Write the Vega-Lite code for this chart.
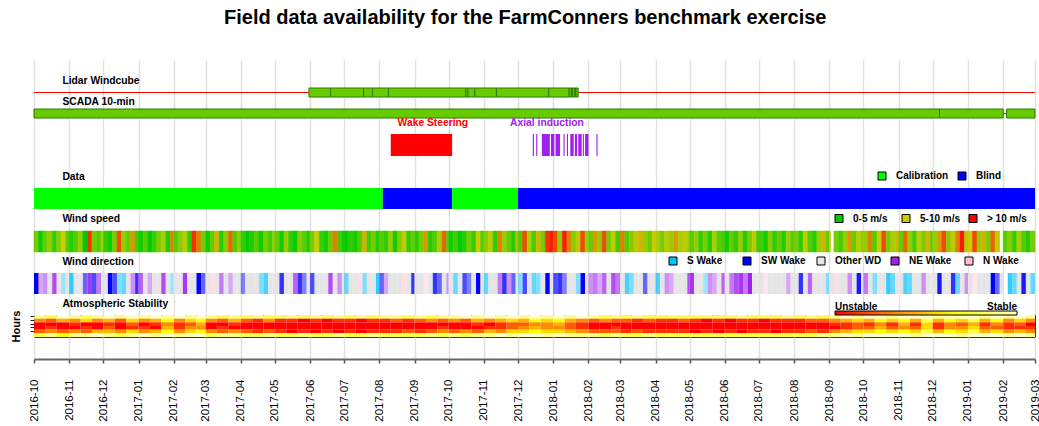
{
  "$schema": "https://vega.github.io/schema/vega-lite/v6.json",
  "padding": {"left": 10, "top": 8, "right": 0, "bottom": 0},
  "title": {"text": "Field data availability for the FarmConners benchmark exercise", "font": "Liberation Sans", "fontSize": 20, "fontWeight": "bold", "color": "#000", "anchor": "middle", "offset": 32},
  "config": {
    "font": "Liberation Sans",
    "view": {"stroke": null},
    "axis": {"gridColor": "#e0e0e0", "gridWidth": 1.5},
    "text": {"font": "Liberation Sans", "fontWeight": "bold", "fontSize": 10.3, "align": "left", "baseline": "middle", "color": "#000"},
    "legend": {"orient": "none", "direction": "horizontal", "title": null, "labelFont": "Liberation Sans", "labelFontSize": 10, "labelFontWeight": "bold", "labelColor": "#000", "padding": 0}
  },
  "spacing": 0,
  "bounds": "flush",
  "resolve": {"scale": {"x": "independent", "y": "independent", "color": "independent", "fill": "independent", "stroke": "independent", "opacity": "independent"}},
  "vconcat": [
    {
      "width": 1001, "height": 100,
      "layer": [
        {"data": {"values": [{"s": "2016-10-01", "e": "2019-03-01"}]},
         "mark": {"type": "rule", "color": "#ff0000", "strokeWidth": 1},
         "encoding": {
           "x": {"field": "s", "type": "temporal", "scale": {"domain": [{"year": 2016, "month": 10, "date": 1, "utc": true}, {"year": 2019, "month": 3, "date": 1, "utc": true}]}, "axis": {"labels": false, "ticks": false, "domain": false, "title": null, "grid": true, "tickCount": {"interval": "month", "step": 1}}},
           "x2": {"field": "e"},
           "y": {"datum": 32.5, "type": "quantitative", "scale": {"domain": [0, 100], "reverse": true, "nice": false, "zero": false}, "axis": null}}},
        {"data": {"values": [{"s": "2016-10-01", "e": "2019-03-01"}]},
         "mark": {"type": "rule", "color": "#ff0000", "strokeWidth": 1},
         "encoding": {"x": {"field": "s", "type": "temporal"}, "x2": {"field": "e"}, "y": {"datum": 53.5, "type": "quantitative"}}},
        {"data": {"values": [
          {"s": "2017-05-31", "e": "2017-06-19"}, {"s": "2017-06-19", "e": "2017-07-18"}, {"s": "2017-07-18", "e": "2017-07-26"},
          {"s": "2017-07-26", "e": "2017-08-09"}, {"s": "2017-08-09", "e": "2017-10-16"}, {"s": "2017-10-16", "e": "2017-10-18"},
          {"s": "2017-10-18", "e": "2017-10-24"}, {"s": "2017-10-24", "e": "2017-11-12"}, {"s": "2017-11-12", "e": "2017-12-28"},
          {"s": "2017-12-28", "e": "2018-01-15"}, {"s": "2018-01-15", "e": "2018-01-17"}, {"s": "2018-01-17", "e": "2018-01-18"},
          {"s": "2018-01-18", "e": "2018-01-20"}, {"s": "2018-01-20", "e": "2018-01-21"}, {"s": "2018-01-21", "e": "2018-01-23"}]},
         "mark": {"type": "rect", "fill": "#66cc00", "stroke": "#2b7a00", "strokeWidth": 1},
         "encoding": {"x": {"field": "s", "type": "temporal"}, "x2": {"field": "e"}, "y": {"datum": 28, "type": "quantitative"}, "y2": {"datum": 37}}},
        {"data": {"values": [{"s": "2016-10-01", "e": "2018-12-07"}, {"s": "2018-12-07", "e": "2019-02-01"}, {"s": "2019-02-04", "e": "2019-03-01"}]},
         "mark": {"type": "rect", "fill": "#66cc00", "stroke": "#2b7a00", "strokeWidth": 1},
         "encoding": {"x": {"field": "s", "type": "temporal"}, "x2": {"field": "e"}, "y": {"datum": 49, "type": "quantitative"}, "y2": {"datum": 58}}},
        {"data": {"values": [{"s": "2017-08-11", "e": "2017-10-04"}]},
         "mark": {"type": "rect", "fill": "#ff0000"},
         "encoding": {"x": {"field": "s", "type": "temporal"}, "x2": {"field": "e"}, "y": {"datum": 74, "type": "quantitative"}, "y2": {"datum": 96}}},
        {"data": {"values": [
          {"s": "2017-12-14", "e": "2017-12-15"}, {"s": "2017-12-17", "e": "2017-12-18"}, {"s": "2017-12-22", "e": "2017-12-29"},
          {"s": "2017-12-30", "e": "2018-01-02"}, {"s": "2018-01-03", "e": "2018-01-07"}, {"s": "2018-01-10", "e": "2018-01-11"},
          {"s": "2018-01-13", "e": "2018-01-14"}, {"s": "2018-01-16", "e": "2018-01-19"}, {"s": "2018-01-20", "e": "2018-01-22"},
          {"s": "2018-01-23", "e": "2018-01-26"}, {"s": "2018-01-27", "e": "2018-01-28"}, {"s": "2018-01-29", "e": "2018-02-01"},
          {"s": "2018-02-08", "e": "2018-02-09"}]},
         "mark": {"type": "rect", "fill": "#a020f0"},
         "encoding": {"x": {"field": "s", "type": "temporal"}, "x2": {"field": "e"}, "y": {"datum": 74, "type": "quantitative"}, "y2": {"datum": 96}}},
        {"data": {"values": [{"label": "Lidar Windcube"}]}, "mark": {"type": "text"},
         "encoding": {"x": {"datum": {"year": 2016, "month": 10, "date": 26, "utc": true}, "type": "temporal"}, "y": {"datum": 20.5, "type": "quantitative"}, "text": {"field": "label"}}},
        {"data": {"values": [{"label": "SCADA 10-min"}]}, "mark": {"type": "text"},
         "encoding": {"x": {"datum": {"year": 2016, "month": 10, "date": 26, "utc": true}, "type": "temporal"}, "y": {"datum": 42, "type": "quantitative"}, "text": {"field": "label"}}},
        {"data": {"values": [{"label": "Wake Steering"}]}, "mark": {"type": "text", "color": "#ff0000"},
         "encoding": {"x": {"datum": {"year": 2017, "month": 8, "date": 17, "utc": true}, "type": "temporal"}, "y": {"datum": 63, "type": "quantitative"}, "text": {"field": "label"}}},
        {"data": {"values": [{"label": "Axial induction"}]}, "mark": {"type": "text", "color": "#a020f0"},
         "encoding": {"x": {"datum": {"year": 2017, "month": 11, "date": 24, "utc": true}, "type": "temporal"}, "y": {"datum": 63, "type": "quantitative"}, "text": {"field": "label"}}}
      ]
    },
    {
      "width": 1001, "height": 51,
      "layer": [
        {"data": {"values": [
          {"s": "2016-10-01", "e": "2017-08-04", "k": "Calibration"}, {"s": "2017-08-04", "e": "2017-10-04", "k": "Blind"},
          {"s": "2017-10-04", "e": "2017-12-01", "k": "Calibration"}, {"s": "2017-12-01", "e": "2019-03-01", "k": "Blind"}]},
         "mark": {"type": "rect"},
         "encoding": {
           "x": {"field": "s", "type": "temporal", "scale": {"domain": [{"year": 2016, "month": 10, "date": 1, "utc": true}, {"year": 2019, "month": 3, "date": 1, "utc": true}]}, "axis": {"labels": false, "ticks": false, "domain": false, "title": null, "grid": true, "tickCount": {"interval": "month", "step": 1}}},
           "x2": {"field": "e"},
           "y": {"datum": 28, "type": "quantitative", "scale": {"domain": [0, 51], "reverse": true, "nice": false, "zero": false}, "axis": null},
           "y2": {"datum": 49},
           "color": {"field": "k", "type": "nominal", "scale": {"domain": ["Calibration", "Blind"], "range": ["#00ff00", "#0000ff"]}, "legend": {"legendX": 843, "legendY": 11, "columnPadding": 7, "symbolType": "square", "symbolSize": 64, "symbolStrokeColor": "#000", "symbolStrokeWidth": 1, "labelOffset": 9, "gridAlign": "all", "symbolOpacity": 1}}}},
        {"data": {"values": [{"label": "Data"}]}, "mark": {"type": "text"},
         "encoding": {"x": {"datum": {"year": 2016, "month": 10, "date": 26, "utc": true}, "type": "temporal"}, "y": {"datum": 16.7, "type": "quantitative"}, "text": {"field": "label"}}}
      ]
    },
    {
      "width": 1001, "height": 43,
      "layer": [
        {"data": {"values": "s,ws\n2016-10-01,7\n2016-10-05,4\n2016-10-09,6.5\n2016-10-13,8\n2016-10-17,5\n2016-10-21,7.5\n2016-10-25,9.5\n2016-10-29,6\n2016-11-01,4.5\n2016-11-05,6\n2016-11-09,8\n2016-11-13,3.5\n2016-11-17,12.5\n2016-11-21,7\n2016-11-25,6\n2016-11-29,8.5\n2016-12-01,5\n2016-12-05,4\n2016-12-09,7\n2016-12-13,12\n2016-12-17,8\n2016-12-21,6.5\n2016-12-25,10.5\n2016-12-29,5.5\n2017-01-01,4\n2017-01-05,6\n2017-01-09,3.5\n2017-01-13,5\n2017-01-17,7\n2017-01-21,8.5\n2017-01-25,4.5\n2017-01-29,11\n2017-02-01,6\n2017-02-05,7.5\n2017-02-09,9\n2017-02-13,5\n2017-02-17,12.5\n2017-02-21,11\n2017-02-25,7\n2017-03-01,4\n2017-03-05,6.5\n2017-03-09,10\n2017-03-13,4.5\n2017-03-17,7.5\n2017-03-21,11.5\n2017-03-25,6\n2017-03-29,8\n2017-04-01,5\n2017-04-05,3.5\n2017-04-09,4.5\n2017-04-13,6\n2017-04-17,4\n2017-04-21,7\n2017-04-25,5.5\n2017-04-29,8\n2017-05-01,6.5\n2017-05-05,4\n2017-05-09,8\n2017-05-13,5\n2017-05-17,3.5\n2017-05-21,7.5\n2017-05-25,6\n2017-05-29,4.5\n2017-06-01,7\n2017-06-05,9.5\n2017-06-09,5\n2017-06-13,4\n2017-06-17,6.5\n2017-06-21,11\n2017-06-25,5.5\n2017-06-29,4\n2017-07-01,3.5\n2017-07-05,5\n2017-07-09,4\n2017-07-13,6\n2017-07-17,10\n2017-07-21,5.5\n2017-07-25,7\n2017-07-29,4.5\n2017-08-01,6\n2017-08-05,5\n2017-08-09,8\n2017-08-13,4\n2017-08-17,7.5\n2017-08-21,9\n2017-08-25,5\n2017-08-29,6.5\n2017-09-01,5\n2017-09-05,7\n2017-09-09,10.5\n2017-09-13,4.5\n2017-09-17,6\n2017-09-21,8.5\n2017-09-25,11.5\n2017-09-29,6\n2017-10-01,4\n2017-10-05,5.5\n2017-10-09,3.5\n2017-10-13,4.5\n2017-10-17,7\n2017-10-21,5\n2017-10-25,9.5\n2017-10-29,6\n2017-11-01,7.5\n2017-11-05,9\n2017-11-09,5\n2017-11-13,11\n2017-11-17,8\n2017-11-21,6.5\n2017-11-25,4.5\n2017-11-29,10\n2017-12-01,6\n2017-12-05,12\n2017-12-09,8.5\n2017-12-13,5.5\n2017-12-17,10\n2017-12-21,7\n2017-12-25,12.5\n2017-12-29,13\n2018-01-01,12\n2018-01-05,8\n2018-01-09,13\n2018-01-13,11\n2018-01-17,7.5\n2018-01-21,9\n2018-01-25,12\n2018-01-29,8\n2018-02-01,6.5\n2018-02-05,10.5\n2018-02-09,8\n2018-02-13,12\n2018-02-17,7\n2018-02-21,9\n2018-02-25,5.5\n2018-03-01,11\n2018-03-05,6\n2018-03-09,7.5\n2018-03-13,9\n2018-03-17,10\n2018-03-21,8\n2018-03-25,6.5\n2018-03-29,9.5\n2018-04-01,8.5\n2018-04-05,7\n2018-04-09,9\n2018-04-13,8\n2018-04-17,10.5\n2018-04-21,8.5\n2018-04-25,9\n2018-04-29,8\n2018-05-01,6\n2018-05-05,8\n2018-05-09,5\n2018-05-13,7\n2018-05-17,4.5\n2018-05-21,8.5\n2018-05-25,6\n2018-05-29,5.5\n2018-06-01,4\n2018-06-05,6.5\n2018-06-09,5\n2018-06-13,8\n2018-06-17,4.5\n2018-06-21,7\n2018-06-25,9\n2018-06-29,5\n2018-07-01,5.5\n2018-07-05,4\n2018-07-09,7.5\n2018-07-13,5\n2018-07-17,6.5\n2018-07-21,4.5\n2018-07-25,8\n2018-07-29,6\n2018-08-01,7\n2018-08-05,5\n2018-08-09,9\n2018-08-13,6\n2018-08-17,4.5\n2018-08-21,8\n2018-08-25,10\n2018-08-29,6.5\n2018-09-01,9\n2018-09-02,\n2018-09-05,7\n2018-09-09,5.5\n2018-09-13,8\n2018-09-17,10.5\n2018-09-21,6.5\n2018-09-25,9\n2018-09-29,7.5\n2018-10-01,8\n2018-10-05,11\n2018-10-09,6\n2018-10-13,9.5\n2018-10-17,12\n2018-10-21,7\n2018-10-25,8.5\n2018-10-29,10\n2018-11-01,6.5\n2018-11-05,11.5\n2018-11-09,8\n2018-11-13,5.5\n2018-11-17,9\n2018-11-21,7\n2018-11-25,10\n2018-11-29,6\n2018-12-01,8\n2018-12-05,10.5\n2018-12-09,12\n2018-12-13,7.5\n2018-12-17,9\n2018-12-21,11\n2018-12-25,13\n2018-12-29,8.5\n2019-01-01,9.5\n2019-01-05,12\n2019-01-09,8\n2019-01-13,10\n2019-01-17,7\n2019-01-21,11.5\n2019-01-25,9\n2019-01-29,\n2019-02-01,6\n2019-02-05,7.5\n2019-02-09,5\n2019-02-13,8.5\n2019-02-17,6\n2019-02-21,4.5\n2019-02-25,7\n2019-03-01,", "format": {"type": "csv", "parse": {"s": "date", "ws": "number"}}},
         "transform": [{"window": [{"op": "lead", "field": "s", "as": "e"}], "sort": [{"field": "s", "order": "ascending"}]}, {"filter": "isValid(datum.ws) && isValid(datum.e)"}],
         "mark": {"type": "rect", "strokeWidth": 0.5},
         "encoding": {
           "x": {"field": "s", "type": "temporal", "scale": {"domain": [{"year": 2016, "month": 10, "date": 1, "utc": true}, {"year": 2019, "month": 3, "date": 1, "utc": true}]}, "axis": {"labels": false, "ticks": false, "domain": false, "title": null, "grid": true, "tickCount": {"interval": "month", "step": 1}}},
           "x2": {"field": "e"},
           "y": {"datum": 20, "type": "quantitative", "scale": {"domain": [0, 43], "reverse": true, "nice": false, "zero": false}, "axis": null},
           "y2": {"datum": 41},
           "fill": {"field": "ws", "type": "quantitative", "scale": {"domain": [3.5, 9.5, 13.5], "range": ["#00cc00", "#cccc00", "#ff0000"], "interpolate": "rgb"}, "legend": null},
           "stroke": {"field": "ws", "type": "quantitative", "scale": {"domain": [3.5, 9.5, 13.5], "range": ["#00cc00", "#cccc00", "#ff0000"], "interpolate": "rgb"}, "legend": null}}},
        {"data": {"values": [{"label": "Wind speed"}]}, "mark": {"type": "text"},
         "encoding": {"x": {"datum": {"year": 2016, "month": 10, "date": 26, "utc": true}, "type": "temporal"}, "y": {"datum": 8, "type": "quantitative"}, "text": {"field": "label"}}},
        {"data": {"values": [{"k": "0-5 m/s"}, {"k": "5-10 m/s"}, {"k": "> 10 m/s"}]},
         "mark": {"type": "point", "filled": true, "opacity": 0},
         "encoding": {"color": {"field": "k", "type": "nominal", "scale": {"domain": ["0-5 m/s", "5-10 m/s", "> 10 m/s"], "range": ["#00cc00", "#cccc00", "#ff0000"]}, "legend": {"legendX": 800, "legendY": 2.5, "columnPadding": 6, "symbolType": "square", "symbolSize": 64, "symbolStrokeColor": "#000", "symbolStrokeWidth": 1, "labelOffset": 9, "gridAlign": "all", "symbolOpacity": 1}}}}
      ]
    },
    {
      "width": 1001, "height": 42,
      "layer": [
        {"data": {"values": "s,c,a\n2016-10-01,SW,10\n2016-10-05,NE,4\n2016-10-09,NE,5\n2016-10-13,O,10\n2016-10-17,NE,8\n2016-10-21,O,10\n2016-10-25,S,4\n2016-10-29,O,10\n2016-11-01,S,8\n2016-11-05,O,10\n2016-11-09,O,10\n2016-11-13,SW,6\n2016-11-17,NE,9\n2016-11-21,SW,7\n2016-11-25,NE,6\n2016-11-29,O,10\n2016-12-01,O,10\n2016-12-05,SW,10\n2016-12-09,SW,7\n2016-12-13,S,5\n2016-12-17,S,6\n2016-12-21,O,10\n2016-12-25,NE,5\n2016-12-29,SW,8\n2017-01-01,NE,7\n2017-01-05,O,10\n2017-01-09,NE,4\n2017-01-13,O,10\n2017-01-17,O,10\n2017-01-21,NE,8\n2017-01-25,O,10\n2017-01-29,S,4\n2017-02-01,O,10\n2017-02-05,O,10\n2017-02-09,NE,9\n2017-02-13,O,10\n2017-02-17,O,10\n2017-02-21,SW,10\n2017-02-25,SW,6\n2017-03-01,O,10\n2017-03-05,N,5\n2017-03-09,O,10\n2017-03-13,NE,6\n2017-03-17,O,10\n2017-03-21,NE,4\n2017-03-25,O,10\n2017-03-29,O,10\n2017-04-01,SW,5\n2017-04-05,O,10\n2017-04-09,O,10\n2017-04-13,O,10\n2017-04-17,S,5\n2017-04-21,S,7\n2017-04-25,O,10\n2017-04-29,O,10\n2017-05-01,O,10\n2017-05-05,SW,8\n2017-05-09,O,10\n2017-05-13,O,10\n2017-05-17,NE,7\n2017-05-21,SW,8\n2017-05-25,SW,5\n2017-05-29,O,10\n2017-06-01,SW,7\n2017-06-05,O,10\n2017-06-09,O,10\n2017-06-13,O,10\n2017-06-17,NE,8\n2017-06-21,O,10\n2017-06-25,NE,5\n2017-06-29,O,10\n2017-07-01,S,6\n2017-07-05,O,10\n2017-07-09,O,10\n2017-07-13,N,5\n2017-07-17,S,5\n2017-07-21,O,10\n2017-07-25,O,10\n2017-07-29,S,8\n2017-08-01,SW,6\n2017-08-05,NE,4\n2017-08-09,O,10\n2017-08-13,O,10\n2017-08-17,O,10\n2017-08-21,N,5\n2017-08-25,O,10\n2017-08-29,SW,8\n2017-09-01,O,10\n2017-09-05,O,10\n2017-09-09,N,4\n2017-09-13,O,10\n2017-09-17,SW,8\n2017-09-21,SW,6\n2017-09-25,O,10\n2017-09-29,NE,5\n2017-10-01,O,10\n2017-10-05,S,6\n2017-10-09,O,10\n2017-10-13,SW,7\n2017-10-17,SW,5\n2017-10-21,O,10\n2017-10-25,SW,10\n2017-10-29,O,10\n2017-11-01,S,6\n2017-11-05,O,10\n2017-11-09,O,10\n2017-11-13,NE,6\n2017-11-17,SW,8\n2017-11-21,NE,5\n2017-11-25,SW,6\n2017-11-29,O,10\n2017-12-01,S,5\n2017-12-05,SW,7\n2017-12-09,O,10\n2017-12-13,S,6\n2017-12-17,S,5\n2017-12-21,O,10\n2017-12-25,SW,10\n2017-12-29,O,10\n2018-01-01,SW,7\n2018-01-05,SW,8\n2018-01-09,SW,5\n2018-01-13,O,10\n2018-01-17,O,10\n2018-01-21,S,5\n2018-01-25,SW,10\n2018-01-29,O,10\n2018-02-01,NE,5\n2018-02-05,NE,6\n2018-02-09,NE,4\n2018-02-13,NE,7\n2018-02-17,O,10\n2018-02-21,NE,8\n2018-02-25,NE,6\n2018-03-01,O,10\n2018-03-05,S,7\n2018-03-09,S,5\n2018-03-13,O,10\n2018-03-17,O,10\n2018-03-21,SW,6\n2018-03-25,O,10\n2018-03-29,O,10\n2018-04-01,S,7\n2018-04-05,O,10\n2018-04-09,NE,5\n2018-04-13,NE,4\n2018-04-17,O,10\n2018-04-21,O,10\n2018-04-25,O,10\n2018-04-29,NE,8\n2018-05-01,NE,9\n2018-05-05,O,10\n2018-05-09,O,10\n2018-05-13,S,4\n2018-05-17,NE,5\n2018-05-21,NE,4\n2018-05-25,O,10\n2018-05-29,NE,7\n2018-06-01,O,10\n2018-06-05,NE,6\n2018-06-09,NE,8\n2018-06-13,NE,9\n2018-06-17,NE,6\n2018-06-21,NE,10\n2018-06-25,O,10\n2018-06-29,O,10\n2018-07-01,O,10\n2018-07-05,N,4\n2018-07-09,O,10\n2018-07-13,O,10\n2018-07-17,O,10\n2018-07-21,O,10\n2018-07-25,NE,4\n2018-07-29,O,10\n2018-08-01,O,10\n2018-08-05,SW,8\n2018-08-09,O,10\n2018-08-13,NE,7\n2018-08-17,O,10\n2018-08-21,O,10\n2018-08-25,O,10\n2018-08-29,S,5\n2018-09-01,O,10\n2018-09-05,N,5\n2018-09-09,O,10\n2018-09-13,O,10\n2018-09-17,NE,5\n2018-09-21,O,10\n2018-09-25,SW,9\n2018-09-29,O,10\n2018-10-01,NE,6\n2018-10-05,O,10\n2018-10-09,S,5\n2018-10-13,O,10\n2018-10-17,O,10\n2018-10-21,S,8\n2018-10-25,S,6\n2018-10-29,O,10\n2018-11-01,O,10\n2018-11-05,S,7\n2018-11-09,S,6\n2018-11-13,O,10\n2018-11-17,O,10\n2018-11-21,NE,5\n2018-11-25,O,10\n2018-11-29,O,10\n2018-12-01,O,10\n2018-12-05,SW,9\n2018-12-09,O,10\n2018-12-13,O,10\n2018-12-17,SW,8\n2018-12-21,S,6\n2018-12-25,O,10\n2018-12-29,NE,5\n2019-01-01,O,10\n2019-01-05,N,4\n2019-01-09,O,10\n2019-01-13,O,10\n2019-01-17,O,10\n2019-01-21,SW,10\n2019-01-25,SW,6\n2019-01-29,O,10\n2019-02-01,,\n2019-02-05,S,8\n2019-02-09,S,6\n2019-02-13,O,10\n2019-02-17,SW,9\n2019-02-21,O,10\n2019-02-25,S,6\n2019-03-01,,", "format": {"type": "csv", "parse": {"s": "date", "a": "number"}}},
         "transform": [{"window": [{"op": "lead", "field": "s", "as": "e"}], "sort": [{"field": "s", "order": "ascending"}]}, {"filter": "isValid(datum.a) && isValid(datum.e)"}],
         "mark": {"type": "rect"},
         "encoding": {
           "x": {"field": "s", "type": "temporal", "scale": {"domain": [{"year": 2016, "month": 10, "date": 1, "utc": true}, {"year": 2019, "month": 3, "date": 1, "utc": true}]}, "axis": {"labels": false, "ticks": false, "domain": false, "title": null, "grid": true, "tickCount": {"interval": "month", "step": 1}}},
           "x2": {"field": "e"},
           "y": {"datum": 19, "type": "quantitative", "scale": {"domain": [0, 42], "reverse": true, "nice": false, "zero": false}, "axis": null},
           "y2": {"datum": 40},
           "fill": {"field": "c", "type": "nominal", "scale": {"domain": ["S", "SW", "O", "NE", "N"], "range": ["#00bfff", "#0000ff", "#e5e5e5", "#a020f0", "#ffc0cb"]}, "legend": {"legendX": 634, "legendY": 2, "columnPadding": 7, "symbolType": "square", "symbolSize": 64, "symbolStrokeColor": "#000", "symbolStrokeWidth": 1, "labelOffset": 9, "gridAlign": "all", "symbolOpacity": 1, "labelExpr": "datum.label == 'S' ? 'S Wake' : datum.label == 'SW' ? 'SW Wake' : datum.label == 'O' ? 'Other WD' : datum.label == 'NE' ? 'NE Wake' : 'N Wake'"}},
           "opacity": {"field": "a", "type": "quantitative", "scale": {"domain": [0, 10], "range": [0, 1]}, "legend": null}}},
        {"data": {"values": [{"label": "Wind direction"}]}, "mark": {"type": "text"},
         "encoding": {"x": {"datum": {"year": 2016, "month": 10, "date": 26, "utc": true}, "type": "temporal"}, "y": {"datum": 8, "type": "quantitative"}, "text": {"field": "label"}}}
      ]
    },
    {
      "width": 1001, "height": 19,
      "data": {"values": [{"label": "Atmospheric Stability"}]},
      "mark": {"type": "text"},
      "encoding": {
        "x": {"datum": {"year": 2016, "month": 10, "date": 26, "utc": true}, "type": "temporal", "scale": {"domain": [{"year": 2016, "month": 10, "date": 1, "utc": true}, {"year": 2019, "month": 3, "date": 1, "utc": true}]}, "axis": {"labels": false, "ticks": false, "domain": false, "title": null, "grid": true, "tickCount": {"interval": "month", "step": 1}}},
        "y": {"datum": 8, "type": "quantitative", "scale": {"domain": [0, 19], "reverse": true, "nice": false, "zero": false}, "axis": null},
        "text": {"field": "label"}}
    },
    {
      "width": 1001, "height": 22,
      "view": {"stroke": "#333", "strokeWidth": 1},
      "data": {"values": "d,h,s\n2016-10-01,0,8\n2016-10-01,4,3\n2016-10-01,8,0\n2016-10-01,12,0\n2016-10-01,16,2\n2016-10-01,20,7\n2016-10-11,0,7\n2016-10-11,4,2\n2016-10-11,8,0\n2016-10-11,12,1\n2016-10-11,16,3\n2016-10-11,20,8\n2016-10-21,0,9\n2016-10-21,4,4\n2016-10-21,8,0\n2016-10-21,12,0\n2016-10-21,16,2\n2016-10-21,20,6\n2016-11-01,0,8\n2016-11-01,4,3\n2016-11-01,8,1\n2016-11-01,12,0\n2016-11-01,16,3\n2016-11-01,20,8\n2016-11-11,0,7\n2016-11-11,4,5\n2016-11-11,8,0\n2016-11-11,12,1\n2016-11-11,16,2\n2016-11-11,20,8\n2016-11-21,0,8\n2016-11-21,4,3\n2016-11-21,8,0\n2016-11-21,12,0\n2016-11-21,16,4\n2016-11-21,20,9\n2016-12-01,0,9\n2016-12-01,4,4\n2016-12-01,8,1\n2016-12-01,12,2\n2016-12-01,16,4\n2016-12-01,20,8\n2016-12-11,0,8\n2016-12-11,4,2\n2016-12-11,8,0\n2016-12-11,12,0\n2016-12-11,16,3\n2016-12-11,20,7\n2016-12-21,0,9\n2016-12-21,4,5\n2016-12-21,8,2\n2016-12-21,12,1\n2016-12-21,16,5\n2016-12-21,20,8\n2017-01-01,0,8\n2017-01-01,4,3\n2017-01-01,8,0\n2017-01-01,12,1\n2017-01-01,16,3\n2017-01-01,20,9\n2017-01-11,0,9\n2017-01-11,4,4\n2017-01-11,8,1\n2017-01-11,12,0\n2017-01-11,16,4\n2017-01-11,20,8\n2017-01-21,0,8\n2017-01-21,4,6\n2017-01-21,8,3\n2017-01-21,12,4\n2017-01-21,16,6\n2017-01-21,20,9\n2017-02-01,0,9\n2017-02-01,4,3\n2017-02-01,8,1\n2017-02-01,12,1\n2017-02-01,16,3\n2017-02-01,20,8\n2017-02-11,0,8\n2017-02-11,4,5\n2017-02-11,8,2\n2017-02-11,12,3\n2017-02-11,16,5\n2017-02-11,20,9\n2017-02-21,0,9\n2017-02-21,4,6\n2017-02-21,8,4\n2017-02-21,12,3\n2017-02-21,16,6\n2017-02-21,20,9\n2017-03-01,0,8\n2017-03-01,4,3\n2017-03-01,8,0\n2017-03-01,12,0\n2017-03-01,16,3\n2017-03-01,20,7\n2017-03-11,0,7\n2017-03-11,4,2\n2017-03-11,8,0\n2017-03-11,12,1\n2017-03-11,16,2\n2017-03-11,20,8\n2017-03-21,0,8\n2017-03-21,4,4\n2017-03-21,8,1\n2017-03-21,12,0\n2017-03-21,16,3\n2017-03-21,20,8\n2017-04-01,0,7\n2017-04-01,4,2\n2017-04-01,8,0\n2017-04-01,12,0\n2017-04-01,16,2\n2017-04-01,20,7\n2017-04-11,0,8\n2017-04-11,4,1\n2017-04-11,8,0\n2017-04-11,12,0\n2017-04-11,16,1\n2017-04-11,20,7\n2017-04-21,0,7\n2017-04-21,4,3\n2017-04-21,8,0\n2017-04-21,12,0\n2017-04-21,16,2\n2017-04-21,20,8\n2017-05-01,0,7\n2017-05-01,4,1\n2017-05-01,8,0\n2017-05-01,12,0\n2017-05-01,16,1\n2017-05-01,20,7\n2017-05-11,0,8\n2017-05-11,4,1\n2017-05-11,8,0\n2017-05-11,12,0\n2017-05-11,16,0\n2017-05-11,20,7\n2017-05-21,0,7\n2017-05-21,4,0\n2017-05-21,8,0\n2017-05-21,12,0\n2017-05-21,16,1\n2017-05-21,20,8\n2017-06-01,0,8\n2017-06-01,4,1\n2017-06-01,8,0\n2017-06-01,12,0\n2017-06-01,16,0\n2017-06-01,20,7\n2017-06-11,0,7\n2017-06-11,4,0\n2017-06-11,8,0\n2017-06-11,12,0\n2017-06-11,16,1\n2017-06-11,20,7\n2017-06-21,0,8\n2017-06-21,4,1\n2017-06-21,8,0\n2017-06-21,12,0\n2017-06-21,16,0\n2017-06-21,20,8\n2017-07-01,0,7\n2017-07-01,4,1\n2017-07-01,8,0\n2017-07-01,12,0\n2017-07-01,16,1\n2017-07-01,20,7\n2017-07-11,0,8\n2017-07-11,4,0\n2017-07-11,8,0\n2017-07-11,12,0\n2017-07-11,16,0\n2017-07-11,20,7\n2017-07-21,0,7\n2017-07-21,4,1\n2017-07-21,8,0\n2017-07-21,12,0\n2017-07-21,16,1\n2017-07-21,20,8\n2017-08-01,0,8\n2017-08-01,4,1\n2017-08-01,8,0\n2017-08-01,12,0\n2017-08-01,16,1\n2017-08-01,20,7\n2017-08-11,0,8\n2017-08-11,4,2\n2017-08-11,8,0\n2017-08-11,12,0\n2017-08-11,16,1\n2017-08-11,20,7\n2017-08-21,0,7\n2017-08-21,4,1\n2017-08-21,8,0\n2017-08-21,12,0\n2017-08-21,16,2\n2017-08-21,20,7\n2017-09-01,0,8\n2017-09-01,4,2\n2017-09-01,8,0\n2017-09-01,12,0\n2017-09-01,16,1\n2017-09-01,20,7\n2017-09-11,0,7\n2017-09-11,4,3\n2017-09-11,8,0\n2017-09-11,12,0\n2017-09-11,16,2\n2017-09-11,20,8\n2017-09-21,0,8\n2017-09-21,4,2\n2017-09-21,8,0\n2017-09-21,12,1\n2017-09-21,16,3\n2017-09-21,20,7\n2017-10-01,0,8\n2017-10-01,4,3\n2017-10-01,8,0\n2017-10-01,12,0\n2017-10-01,16,2\n2017-10-01,20,8\n2017-10-11,0,9\n2017-10-11,4,2\n2017-10-11,8,0\n2017-10-11,12,0\n2017-10-11,16,3\n2017-10-11,20,7\n2017-10-21,0,8\n2017-10-21,4,4\n2017-10-21,8,1\n2017-10-21,12,0\n2017-10-21,16,2\n2017-10-21,20,8\n2017-11-01,0,9\n2017-11-01,4,3\n2017-11-01,8,0\n2017-11-01,12,1\n2017-11-01,16,4\n2017-11-01,20,8\n2017-11-11,0,8\n2017-11-11,4,4\n2017-11-11,8,1\n2017-11-11,12,1\n2017-11-11,16,3\n2017-11-11,20,9\n2017-11-21,0,9\n2017-11-21,4,5\n2017-11-21,8,2\n2017-11-21,12,2\n2017-11-21,16,5\n2017-11-21,20,8\n2017-12-01,0,8\n2017-12-01,4,4\n2017-12-01,8,2\n2017-12-01,12,3\n2017-12-01,16,5\n2017-12-01,20,9\n2017-12-11,0,9\n2017-12-11,4,6\n2017-12-11,8,3\n2017-12-11,12,4\n2017-12-11,16,6\n2017-12-11,20,9\n2017-12-21,0,8\n2017-12-21,4,5\n2017-12-21,8,3\n2017-12-21,12,3\n2017-12-21,16,5\n2017-12-21,20,8\n2018-01-01,0,9\n2018-01-01,4,6\n2018-01-01,8,4\n2018-01-01,12,3\n2018-01-01,16,5\n2018-01-01,20,9\n2018-01-11,0,8\n2018-01-11,4,4\n2018-01-11,8,2\n2018-01-11,12,2\n2018-01-11,16,4\n2018-01-11,20,8\n2018-01-21,0,9\n2018-01-21,4,3\n2018-01-21,8,1\n2018-01-21,12,1\n2018-01-21,16,3\n2018-01-21,20,8\n2018-02-01,0,8\n2018-02-01,4,2\n2018-02-01,8,0\n2018-02-01,12,0\n2018-02-01,16,2\n2018-02-01,20,8\n2018-02-11,0,7\n2018-02-11,4,3\n2018-02-11,8,0\n2018-02-11,12,0\n2018-02-11,16,2\n2018-02-11,20,7\n2018-02-21,0,8\n2018-02-21,4,2\n2018-02-21,8,0\n2018-02-21,12,1\n2018-02-21,16,2\n2018-02-21,20,8\n2018-03-01,0,7\n2018-03-01,4,2\n2018-03-01,8,0\n2018-03-01,12,0\n2018-03-01,16,1\n2018-03-01,20,7\n2018-03-11,0,8\n2018-03-11,4,1\n2018-03-11,8,0\n2018-03-11,12,0\n2018-03-11,16,2\n2018-03-11,20,7\n2018-03-21,0,7\n2018-03-21,4,2\n2018-03-21,8,0\n2018-03-21,12,0\n2018-03-21,16,1\n2018-03-21,20,8\n2018-04-01,0,7\n2018-04-01,4,1\n2018-04-01,8,0\n2018-04-01,12,0\n2018-04-01,16,1\n2018-04-01,20,7\n2018-04-11,0,7\n2018-04-11,4,1\n2018-04-11,8,0\n2018-04-11,12,0\n2018-04-11,16,1\n2018-04-11,20,7\n2018-04-21,0,7\n2018-04-21,4,2\n2018-04-21,8,0\n2018-04-21,12,0\n2018-04-21,16,1\n2018-04-21,20,7\n2018-05-01,0,7\n2018-05-01,4,1\n2018-05-01,8,0\n2018-05-01,12,0\n2018-05-01,16,0\n2018-05-01,20,7\n2018-05-11,0,7\n2018-05-11,4,0\n2018-05-11,8,0\n2018-05-11,12,0\n2018-05-11,16,1\n2018-05-11,20,7\n2018-05-21,0,7\n2018-05-21,4,1\n2018-05-21,8,0\n2018-05-21,12,0\n2018-05-21,16,0\n2018-05-21,20,7\n2018-06-01,0,7\n2018-06-01,4,0\n2018-06-01,8,0\n2018-06-01,12,0\n2018-06-01,16,1\n2018-06-01,20,7\n2018-06-11,0,8\n2018-06-11,4,1\n2018-06-11,8,0\n2018-06-11,12,0\n2018-06-11,16,0\n2018-06-11,20,7\n2018-06-21,0,7\n2018-06-21,4,1\n2018-06-21,8,0\n2018-06-21,12,0\n2018-06-21,16,1\n2018-06-21,20,7\n2018-07-01,0,7\n2018-07-01,4,0\n2018-07-01,8,0\n2018-07-01,12,0\n2018-07-01,16,1\n2018-07-01,20,7\n2018-07-11,0,7\n2018-07-11,4,1\n2018-07-11,8,0\n2018-07-11,12,0\n2018-07-11,16,0\n2018-07-11,20,7\n2018-07-21,0,8\n2018-07-21,4,1\n2018-07-21,8,0\n2018-07-21,12,0\n2018-07-21,16,1\n2018-07-21,20,7\n2018-08-01,0,7\n2018-08-01,4,1\n2018-08-01,8,0\n2018-08-01,12,0\n2018-08-01,16,1\n2018-08-01,20,7\n2018-08-11,0,8\n2018-08-11,4,2\n2018-08-11,8,0\n2018-08-11,12,0\n2018-08-11,16,2\n2018-08-11,20,7\n2018-08-21,0,7\n2018-08-21,4,2\n2018-08-21,8,0\n2018-08-21,12,0\n2018-08-21,16,1\n2018-08-21,20,8\n2018-09-01,0,8\n2018-09-01,4,3\n2018-09-01,8,1\n2018-09-01,12,0\n2018-09-01,16,3\n2018-09-01,20,8\n2018-09-11,0,9\n2018-09-11,4,4\n2018-09-11,8,1\n2018-09-11,12,1\n2018-09-11,16,4\n2018-09-11,20,9\n2018-09-21,0,8\n2018-09-21,4,5\n2018-09-21,8,2\n2018-09-21,12,2\n2018-09-21,16,5\n2018-09-21,20,8\n2018-10-01,0,9\n2018-10-01,4,4\n2018-10-01,8,1\n2018-10-01,12,2\n2018-10-01,16,5\n2018-10-01,20,9\n2018-10-11,0,9\n2018-10-11,4,6\n2018-10-11,8,3\n2018-10-11,12,4\n2018-10-11,16,6\n2018-10-11,20,9\n2018-10-21,0,8\n2018-10-21,4,5\n2018-10-21,8,1\n2018-10-21,12,2\n2018-10-21,16,5\n2018-10-21,20,9\n2018-11-01,0,9\n2018-11-01,4,6\n2018-11-01,8,4\n2018-11-01,12,3\n2018-11-01,16,6\n2018-11-01,20,9\n2018-11-11,0,9\n2018-11-11,4,4\n2018-11-11,8,1\n2018-11-11,12,2\n2018-11-11,16,5\n2018-11-11,20,8\n2018-11-21,0,9\n2018-11-21,4,7\n2018-11-21,8,5\n2018-11-21,12,5\n2018-11-21,16,7\n2018-11-21,20,9\n2018-12-01,0,8\n2018-12-01,4,4\n2018-12-01,8,1\n2018-12-01,12,1\n2018-12-01,16,4\n2018-12-01,20,9\n2018-12-11,0,9\n2018-12-11,4,6\n2018-12-11,8,3\n2018-12-11,12,3\n2018-12-11,16,6\n2018-12-11,20,9\n2018-12-21,0,9\n2018-12-21,4,5\n2018-12-21,8,2\n2018-12-21,12,3\n2018-12-21,16,5\n2018-12-21,20,8\n2019-01-01,0,9\n2019-01-01,4,7\n2019-01-01,8,4\n2019-01-01,12,5\n2019-01-01,16,7\n2019-01-01,20,9\n2019-01-11,0,8\n2019-01-11,4,4\n2019-01-11,8,1\n2019-01-11,12,2\n2019-01-11,16,4\n2019-01-11,20,9\n2019-01-21,0,9\n2019-01-21,4,6\n2019-01-21,8,3\n2019-01-21,12,2\n2019-01-21,16,5\n2019-01-21,20,9\n2019-02-01,0,8\n2019-02-01,4,3\n2019-02-01,8,1\n2019-02-01,12,1\n2019-02-01,16,3\n2019-02-01,20,8\n2019-02-11,0,9\n2019-02-11,4,5\n2019-02-11,8,2\n2019-02-11,12,1\n2019-02-11,16,4\n2019-02-11,20,9\n2019-02-21,0,8\n2019-02-21,4,3\n2019-02-21,8,0\n2019-02-21,12,1\n2019-02-21,16,3\n2019-02-21,20,8\n2019-03-01,0,0\n2019-03-01,4,0\n2019-03-01,8,0\n2019-03-01,12,0\n2019-03-01,16,0\n2019-03-01,20,0", "format": {"type": "csv", "parse": {"d": "date", "h": "number", "s": "number"}}},
      "transform": [{"window": [{"op": "lead", "field": "d", "as": "e"}], "groupby": ["h"], "sort": [{"field": "d", "order": "ascending"}]}, {"filter": "isValid(datum.e)"}],
      "mark": {"type": "rect"},
      "encoding": {
        "x": {"field": "d", "type": "temporal", "scale": {"domain": [{"year": 2016, "month": 10, "date": 1, "utc": true}, {"year": 2019, "month": 3, "date": 1, "utc": true}]}, "axis": {"labels": false, "ticks": false, "domain": false, "title": null, "grid": false}},
        "x2": {"field": "e"},
        "y": {"field": "h", "type": "ordinal", "scale": {"paddingInner": 0, "paddingOuter": 0}, "axis": {"title": "Hours", "titleFontWeight": "bold", "titleFontSize": 11, "titleColor": "#000", "labels": false, "ticks": true, "tickSize": 4, "tickColor": "#222", "domain": false, "grid": false, "values": [0, 4, 8, 12, 16], "titlePadding": 8}},
        "color": {"field": "s", "type": "quantitative", "scale": {"domain": [0, 3, 6, 9], "range": ["#ff0000", "#ff8c00", "#ffff00", "#ffffc8"], "interpolate": "rgb"}, "legend": {"type": "gradient", "legendX": 801, "legendY": -4, "gradientLength": 182, "gradientThickness": 4, "gradientStrokeColor": "#000", "gradientStrokeWidth": 1, "values": [0, 9], "labelExpr": "datum.value == 0 ? 'Unstable' : 'Stable'", "labelOffset": -13, "labelBaseline": "top"}}}
    },
    {
      "width": 1001, "height": 22,
      "data": {"values": [{"s": "2016-10-01"}]},
      "mark": {"type": "rule", "opacity": 0},
      "encoding": {
        "x": {"field": "s", "type": "temporal", "scale": {"domain": [{"year": 2016, "month": 10, "date": 1, "utc": true}, {"year": 2019, "month": 3, "date": 1, "utc": true}]},
              "axis": {"title": null, "format": "%Y-%m", "labelAngle": -90, "labelFontSize": 11.5, "labelColor": "#000", "labelPadding": 16, "tickSize": 4, "tickColor": "#555", "tickWidth": 1.5, "domainColor": "#666", "domainWidth": 2, "grid": true, "tickCount": {"interval": "month", "step": 1}, "labelFlush": false, "labelOverlap": false, "labelBound": false, "labelAlign": "right", "labelBaseline": "middle"}}}
    }
  ]
}
